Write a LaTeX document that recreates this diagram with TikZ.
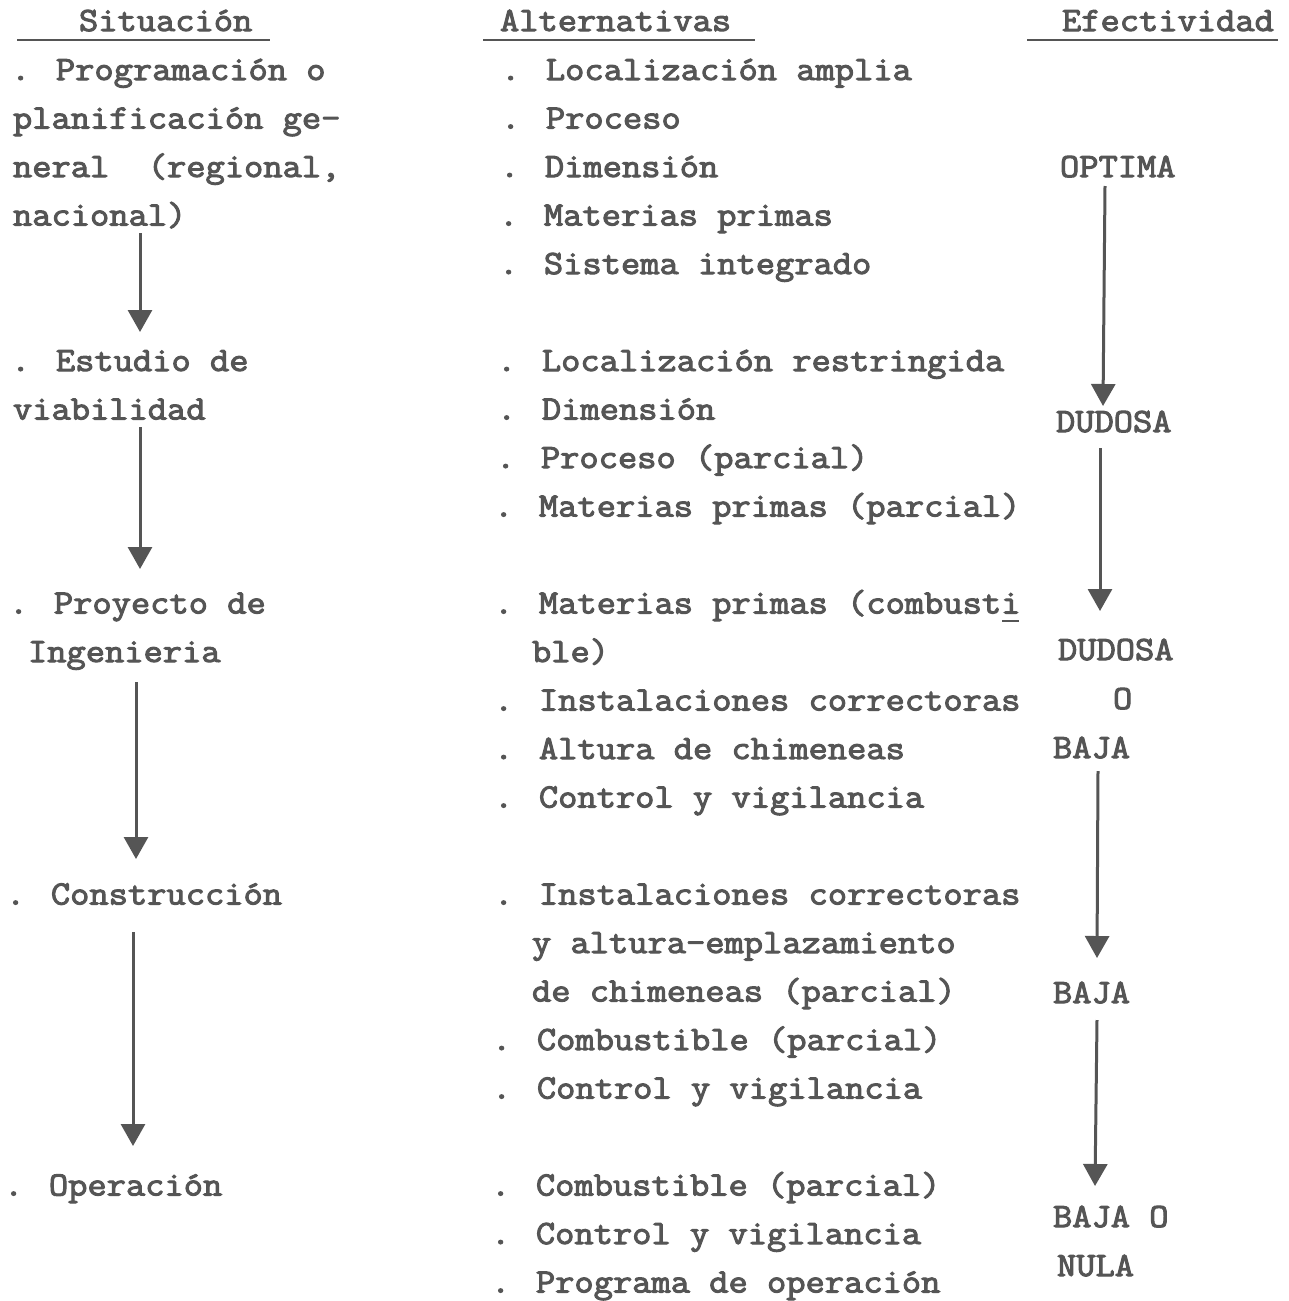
\documentclass[tikz,border=0pt]{standalone}
\usepackage{fontspec}
\usetikzlibrary{arrows.meta}
\newfontfamily\tw{Latin Modern Mono}[FakeStretch=1.1,FakeBold=3]
\definecolor{ink}{RGB}{85,85,85}
\begin{document}
\begin{tikzpicture}[x=1pt,y=-1pt,
  txt/.style={anchor=base west,inner sep=0pt,outer sep=0pt,text=ink,font=\tw\fontsize{34}{40}\selectfont},
  arr/.style={draw=ink,line width=3pt,-{Triangle[width=24pt,length=22pt]}},
  rule/.style={draw=ink,line width=2.6pt}]
\fill[white] (0,0) rectangle (1289,1301);
\useasboundingbox (0,0) rectangle (1289,1301);
% headers
\node[txt] (h1) at (79,31) {Situación};
\node[txt] (h2) at (500,31) {Alternativas};
\node[txt] (h3) at (1062,31) {Efectividad};
\coordinate (u1a) at (17,40); \coordinate (u1b) at (270,40);
\coordinate (u2a) at (483,40); \coordinate (u2b) at (755,40);
\coordinate (u3a) at (1027,40); \coordinate (u3b) at (1278,40);
\draw[rule] (u1a) -- (u1b);
\draw[rule] (u2a) -- (u2b);
\draw[rule] (u3a) -- (u3b);
% column 1
\node[txt] (s1) at (11,80) {. Programación o};
\node[txt] (s2) at (13,128.5) {planificación ge-};
\node[txt] (s3) at (13,177) {neral\ \ (regional,};
\node[txt] (s4) at (13,225.5) {nacional)};
\node[txt] (s5) at (11,371) {. Estudio de};
\node[txt] (s6) at (13,419.5) {viabilidad};
\node[txt] (s7) at (9,613.5) {. Proyecto de};
\node[txt] (s8) at (28,662) {Ingenieria};
\node[txt] (s9) at (6,904.5) {. Construcción};
\node[txt] (s10) at (4,1195.5) {. Operación};
% column 2
\node[txt] (a1) at (501,80) {. Localización amplia};
\node[txt] (a2) at (501,128.5) {. Proceso};
\node[txt] (a3) at (500,177) {. Dimensión};
\node[txt] (a4) at (499,225.5) {. Materias primas};
\node[txt] (a5) at (499,274) {. Sistema integrado};
\node[txt] (a6) at (497,371) {. Localización restringida};
\node[txt] (a7) at (497,419.5) {. Dimensión};
\node[txt] (a8) at (496,468) {. Proceso (parcial)};
\node[txt] (a9) at (494,516.5) {. Materias primas (parcial)};
\node[txt] (a10) at (494,613.5) {. Materias primas (combusti};
\node[txt] (a11) at (532,662) {ble)};
\node[txt] (a12) at (494,710.5) {. Instalaciones correctoras};
\node[txt] (a13) at (494,759) {. Altura de chimeneas};
\node[txt] (a14) at (494,807.5) {. Control y vigilancia};
\node[txt] (a15) at (494,904.5) {. Instalaciones correctoras};
\node[txt] (a16) at (532,953) {y altura-emplazamiento};
\node[txt] (a17) at (532,1001.5) {de chimeneas (parcial)};
\node[txt] (a18) at (492,1050) {. Combustible (parcial)};
\node[txt] (a19) at (492,1098.5) {. Control y vigilancia};
\node[txt] (a20) at (491,1195.5) {. Combustible (parcial)};
\node[txt] (a21) at (491,1244) {. Control y vigilancia};
\node[txt] (a22) at (491,1292.5) {. Programa de operación};
\draw[rule,line width=2pt] ([xshift=-18pt,yshift=-7pt]a10.base east) -- ([xshift=-1pt,yshift=-7pt]a10.base east);
% column 3
\node[txt] (e1) at (1060,177) {OPTIMA};
\node[txt] (e2) at (1056,432) {DUDOSA};
\node[txt] (e3) at (1058,660) {DUDOSA};
\node[txt] (e4) at (1113,709) {O};
\node[txt] (e5) at (1053,758) {BAJA};
\node[txt] (e6) at (1053,1003) {BAJA};
\node[txt] (e7) at (1053,1227) {BAJA O};
\node[txt] (e8) at (1057,1276) {NULA};
% arrows column 1
\coordinate (p1s) at (140,233); \coordinate (p1e) at (140,332);
\coordinate (p2s) at (140,427); \coordinate (p2e) at (140,569);
\coordinate (p3s) at (136,682); \coordinate (p3e) at (136,859);
\coordinate (p4s) at (133,932); \coordinate (p4e) at (133,1146);
\draw[arr] (p1s) -- (p1e);
\draw[arr] (p2s) -- (p2e);
\draw[arr] (p3s) -- (p3e);
\draw[arr] (p4s) -- (p4e);
% arrows column 3
\coordinate (q1s) at (1105,186); \coordinate (q1e) at (1103,406);
\coordinate (q2s) at (1100,448); \coordinate (q2e) at (1100,611);
\coordinate (q3s) at (1098,771); \coordinate (q3e) at (1097,958);
\coordinate (q4s) at (1097,1020); \coordinate (q4e) at (1095,1186);
\draw[arr] (q1s) -- (q1e);
\draw[arr] (q2s) -- (q2e);
\draw[arr] (q3s) -- (q3e);
\draw[arr] (q4s) -- (q4e);
\end{tikzpicture}
\end{document}
